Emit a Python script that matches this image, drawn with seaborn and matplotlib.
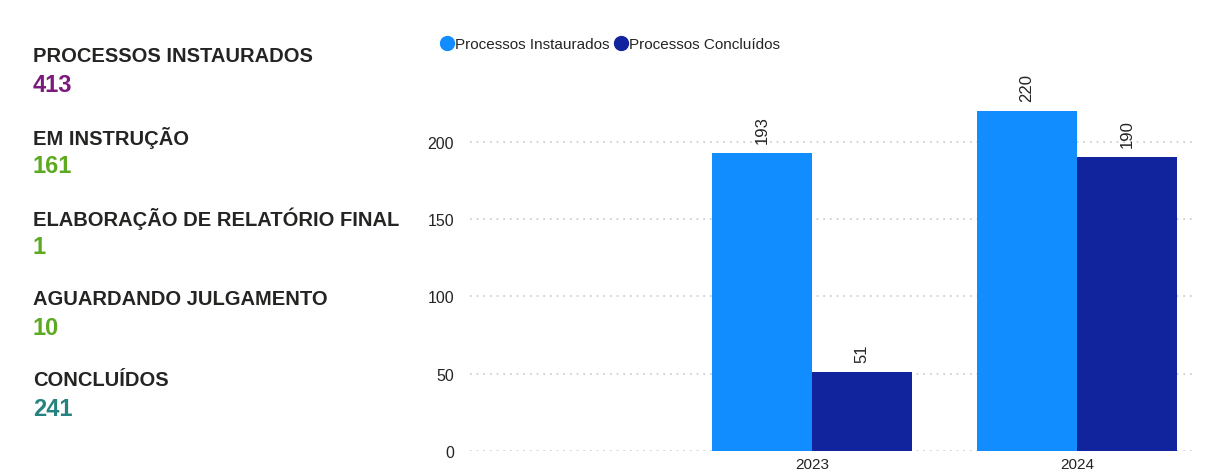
import pandas as pd
import seaborn as sns
import matplotlib.pyplot as plt
from matplotlib.lines import Line2D

# data
anos = ["2023", "2024"]
instaurados = [193, 220]
concluidos = [51, 190]
serie_nomes = ["Processos Instaurados", "Processos Concluídos"]

kpi_titulos = ["PROCESSOS INSTAURADOS", "EM INSTRUÇÃO", "ELABORAÇÃO DE RELATÓRIO FINAL",
               "AGUARDANDO JULGAMENTO", "CONCLUÍDOS"]
kpi_valores = [413, 161, 1, 10, 241]
kpi_cores = ["#7A1A7E", "#5BAA22", "#5BAA22", "#5BAA22", "#25837F"]

data = pd.DataFrame({
    "ano": anos * 2,
    "valor": instaurados + concluidos,
    "serie": [serie_nomes[0]] * 2 + [serie_nomes[1]] * 2,
})

sns.set_style("white")
plt.rcParams["font.family"] = ["Liberation Sans", "DejaVu Sans"]
my_pal = {serie_nomes[0]: "#118DFF", serie_nomes[1]: "#12239E"}

fig = plt.figure(figsize=(12.09, 4.77), dpi=100)
ax = fig.add_axes([0.3888, 0.0524, 0.5996, 0.778])

sns.barplot(data=data, x="ano", y="valor", hue="serie", palette=my_pal, ax=ax,
            width=0.755, gap=0, saturation=1, legend=False, linewidth=0)

for cont in ax.containers:
    for bar in cont:
        h = bar.get_height()
        ax.annotate(f"{int(h)}", (bar.get_x() + bar.get_width() / 2, h),
                    xytext=(0, 7), textcoords="offset points", rotation=90,
                    ha="center", va="bottom", fontsize=12, color="#252423")

ax.set_xlim(-1.29, 1.445)
ax.set_ylim(0, 240)
ax.set_yticks([0, 50, 100, 150, 200])
ax.yaxis.grid(True, color="#C8C8C8", linestyle=(0, (1, 3)), linewidth=1.2)
ax.set_axisbelow(True)
ax.set_xlabel("")
ax.set_ylabel("")
ax.tick_params(left=False, bottom=False, labelsize=11.5, labelcolor="#252423")
ax.tick_params(axis="y", pad=8)
ax.tick_params(axis="x", pad=1, labelsize=11)
for s in ax.spines.values():
    s.set_visible(False)

# legend
handles = [Line2D([], [], marker="o", linestyle="", markersize=10, color=my_pal[n]) for n in serie_nomes]
fig.legend(handles=handles, labels=serie_nomes, loc="center left", bbox_to_anchor=(0.352, 0.905),
           frameon=False, ncol=2, fontsize=11, handletextpad=0.0, columnspacing=0.3,
           handlelength=1.0, labelcolor="#252423")

# KPI texts
y0 = 57
for i, (t, v, c) in enumerate(zip(kpi_titulos, kpi_valores, kpi_cores)):
    yt = y0 + i * 80.8
    fig.text(33 / 1209, 1 - yt / 477, t, fontsize=14.5, fontweight="bold", color="#252423",
             ha="left", va="center")
    fig.text(33 / 1209, 1 - (yt + 29) / 477, str(v), fontsize=17, fontweight="bold", color=c,
             ha="left", va="center")

fig.savefig("out.png", dpi=100)
